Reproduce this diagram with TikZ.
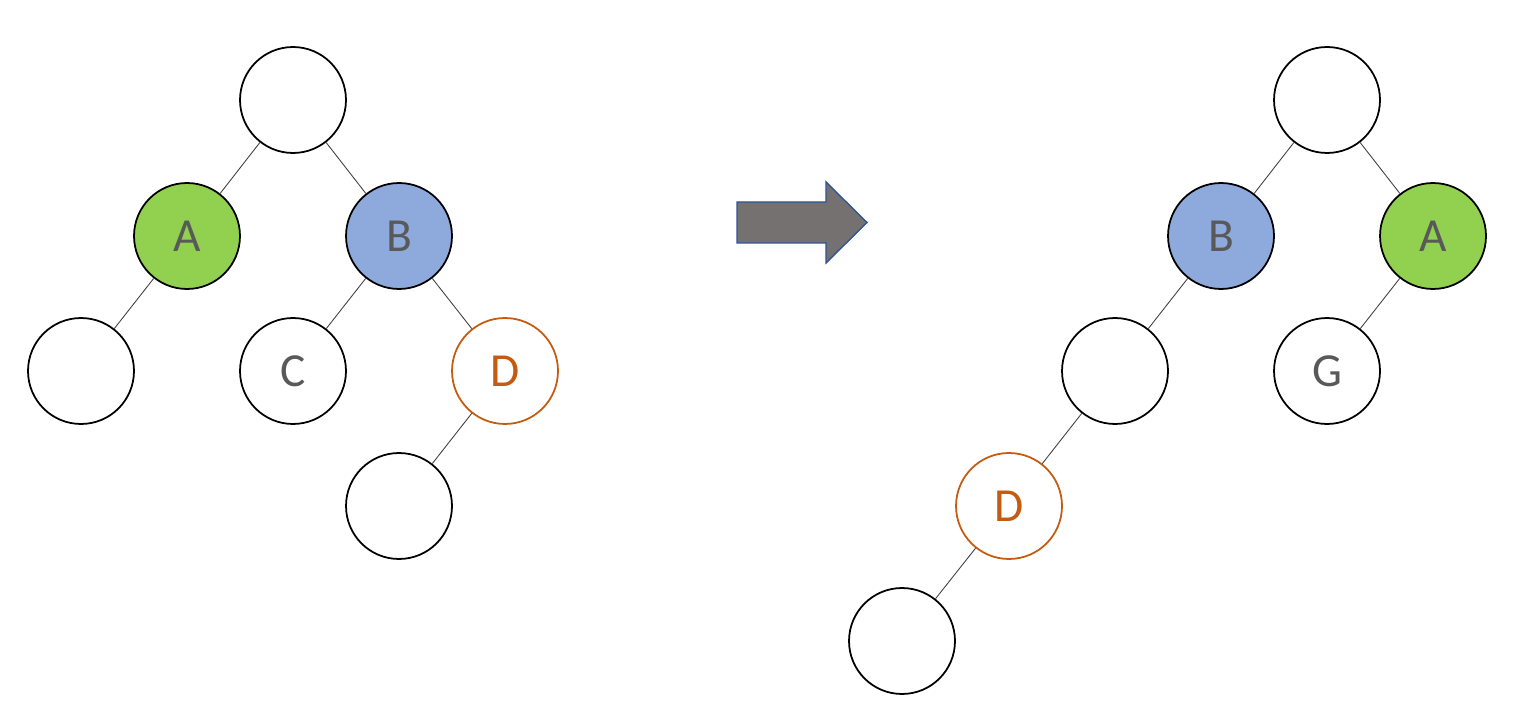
\documentclass[tikz,border=0pt]{standalone}
\usepackage{fontspec}
\setmainfont{Carlito}
\usepackage{tikz}
\usetikzlibrary{positioning}
\definecolor{nodegreen}{HTML}{92D050}
\definecolor{nodeblue}{HTML}{8EA9DB}
\definecolor{nodeorange}{HTML}{C55A11}
\definecolor{labelgray}{HTML}{595959}
\definecolor{arrowgray}{HTML}{767171}
\definecolor{arrowblue}{HTML}{2F5597}
\tikzstyle{treenode} = [
  circle, draw=black, fill=white, line width=1pt,
  minimum size=2.12cm, inner sep=0pt,
  font=\fontsize{27}{30}\selectfont, text=labelgray
]
\tikzstyle{green node} = [treenode, fill=nodegreen]
\tikzstyle{blue node} = [treenode, fill=nodeblue]
\tikzstyle{marked node} = [treenode, draw=nodeorange, text=nodeorange]
\tikzstyle{edge} = [draw=black!75, line width=0.5pt]
\tikzstyle{blockarrow} = [draw=arrowblue, fill=arrowgray, line width=0.8pt, line join=miter]

\begin{document}
\begin{tikzpicture}[x=0.02cm, y=-0.02cm]

  \useasboundingbox (0,0) rectangle (1523,712);

  % Left tree
  \node[treenode] (lroot) at (293,100) {};
  \node[green node] (la) at (187,236) {A};
  \node[blue node] (lb) at (399,236) {B};
  \node[treenode] (lleaf) at (81,371) {};
  \node[treenode] (lc) at (293,371) {C};
  \node[marked node] (ld) at (505,371) {D};
  \node[treenode] (ldleaf) at (399,506) {};

  \draw[edge] (lroot) -- (la);
  \draw[edge] (lroot) -- (lb);
  \draw[edge] (la) -- (lleaf);
  \draw[edge] (lb) -- (lc);
  \draw[edge] (lb) -- (ld);
  \draw[edge] (ld) -- (ldleaf);

  % Arrow
  \draw[blockarrow] (737,202) -- (826,202) -- (826,182) -- (867,222.5)
    -- (826,263) -- (826,243) -- (737,243) -- cycle;

  % Right tree
  \node[treenode] (rroot) at (1327,100) {};
  \node[blue node] (rb) at (1221,236) {B};
  \node[green node] (ra) at (1433,236) {A};
  \node[treenode] (rleaf) at (1115,371) {};
  \node[treenode] (rg) at (1327,371) {G};
  \node[marked node] (rd) at (1009,506) {D};
  \node[treenode] (rdleaf) at (902,641) {};

  \draw[edge] (rroot) -- (rb);
  \draw[edge] (rroot) -- (ra);
  \draw[edge] (rb) -- (rleaf);
  \draw[edge] (ra) -- (rg);
  \draw[edge] (rleaf) -- (rd);
  \draw[edge] (rd) -- (rdleaf);

\end{tikzpicture}
\end{document}
